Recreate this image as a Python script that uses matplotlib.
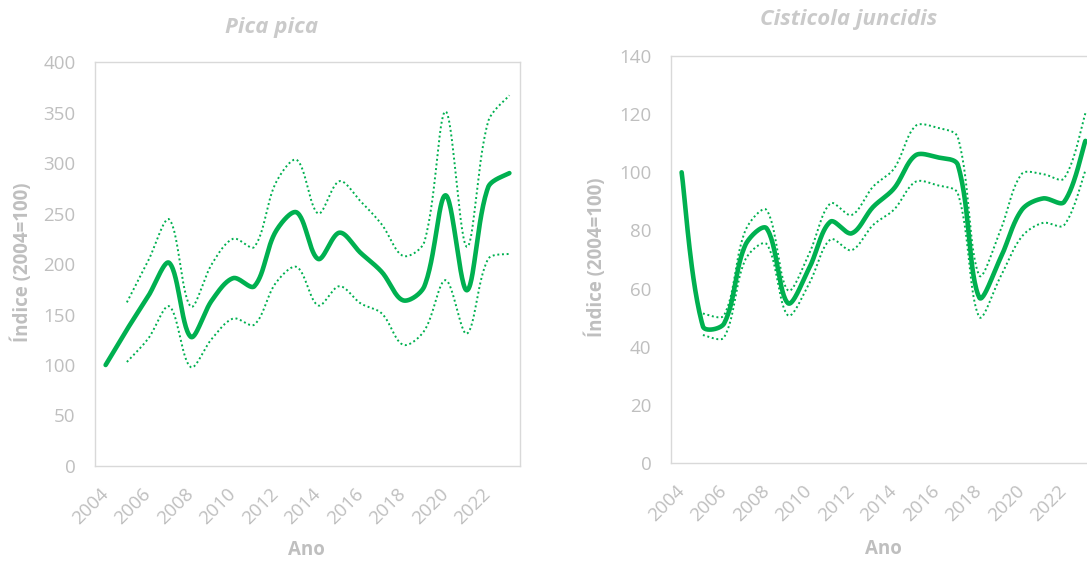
import numpy as np
import matplotlib
matplotlib.use("Agg")
import matplotlib.pyplot as plt

years = list(range(2004, 2024))

# Pica pica index (2004 = 100) with lower / upper bounds (bounds start in 2005)
pica_mean = [100, 135, 168, 201, 128, 164, 186, 178, 232, 251, 205, 231, 211, 192, 164, 178, 268, 174, 276, 290]
pica_upper = [None, 162, 203, 244, 158, 200, 225, 217, 280, 303, 250, 282, 262, 239, 208, 222, 351, 217, 341, 367]
pica_lower = [None, 103, 126, 158, 98, 126, 146, 140, 181, 197, 159, 178, 161, 151, 120, 134, 184, 131, 205, 210]

# Cisticola juncidis index (2004 = 100) with lower / upper bounds
cist_mean = [100, 47, 48, 75, 80.7, 55, 67, 83, 79, 88, 94.5, 105.8, 105.2, 102.5, 57, 70.4, 87, 91, 89.8, 110.8]
cist_upper = [None, 51.4, 50.8, 80, 87, 59.4, 72, 89.3, 85.3, 95, 101.3, 115.9, 115.4, 112, 64.6, 80, 99.4, 99.4, 97.9, 120.3]
cist_lower = [None, 44, 43.2, 70, 75.3, 50.8, 61.7, 76.9, 73.2, 81.8, 87.2, 96.7, 95.6, 92.7, 50.3, 64, 77.8, 82.6, 81.8, 100.7]

GREEN = "#00B050"
GREY = "#BFBFBF"
TITLE_GREY = "#CACACA"
FONT = ["Open Sans", "DejaVu Sans"]


def smooth(ax, xs, ys, n=30, f=1 / 3):
    """Smoothed line through every point, built in screen space with
    length-weighted Bezier control points (limits overshoot on uneven segments)."""
    pts = [(x, y) for x, y in zip(xs, ys) if y is not None]
    p = ax.transData.transform(np.array(pts, dtype=float))
    m = len(p)
    d = np.linalg.norm(np.diff(p, axis=0), axis=1)
    tang = np.zeros_like(p)
    tang[1:-1] = p[2:] - p[:-2]
    tang[0] = p[1] - p[0]
    tang[-1] = p[-1] - p[-2]
    t = np.linspace(0, 1, n, endpoint=False)[:, None]
    out = []
    for i in range(m - 1):
        p1, p2 = p[i], p[i + 1]
        dl = d[i - 1] if i > 0 else d[i]
        dr = d[i + 1] if i + 1 < m - 1 else d[i]
        if i == 0:
            c1 = p1 + tang[i] * f * 0.5
        else:
            c1 = p1 + tang[i] * f * d[i] / (dl + d[i])
        if i + 1 == m - 1:
            c2 = p2 - tang[i + 1] * f * 0.5
        else:
            c2 = p2 - tang[i + 1] * f * d[i] / (d[i] + dr)
        seg = (1 - t) ** 3 * p1 + 3 * (1 - t) ** 2 * t * c1 + 3 * (1 - t) * t ** 2 * c2 + t ** 3 * p2
        out.append(seg)
    out.append(p[-1][None, :])
    out = ax.transData.inverted().transform(np.vstack(out))
    return out[:, 0], out[:, 1]


W, H = 1087, 561
fig = plt.figure(figsize=(W / 100, H / 100), dpi=100)


def panel(left, bottom, right, top, mean, lower, upper, ymax, ystep):
    ax = fig.add_axes([left / W, 1 - bottom / H, (right - left) / W, (bottom - top) / H])
    idx = np.arange(len(years))
    ax.set_xlim(-0.5, len(years) - 0.5)
    ax.set_ylim(0, ymax)
    for series in (upper, lower):
        sx, sy = smooth(ax, idx, series)
        ax.plot(sx, sy, color=GREEN, lw=1.4, ls=(0, (1, 1.4)))
    mx, my = smooth(ax, idx, mean)
    ax.plot(mx, my, color=GREEN, lw=3.3, solid_capstyle="round", solid_joinstyle="round")
    ax.set_yticks(np.arange(0, ymax + 1, ystep))
    ax.set_xticks(idx[::2])
    ax.set_xticklabels([str(y) for y in years[::2]], rotation=45, ha="right",
                       rotation_mode="anchor", va="center")
    ax.tick_params(length=0, colors=GREY, labelsize=13.5)
    ax.tick_params(axis="y", pad=14)
    ax.tick_params(axis="x", pad=18)
    for lab in ax.get_xticklabels() + ax.get_yticklabels():
        lab.set_family(FONT)
    for s in ax.spines.values():
        s.set_color("#D9D9D9")
        s.set_linewidth(1.0)
    return ax


ax1 = panel(95, 466, 520, 62, pica_mean, pica_lower, pica_upper, 400, 50)
ax2 = panel(671, 463, 1096, 56, cist_mean, cist_lower, cist_upper, 140, 20)

fig.text(272 / W, 1 - 28 / H, "Pica pica", ha="center", va="center", fontsize=16,
         color=TITLE_GREY, style="italic", weight="bold", family=FONT)
fig.text(849 / W, 1 - 20 / H, "Cisticola juncidis", ha="center", va="center", fontsize=16,
         color=TITLE_GREY, style="italic", weight="bold", family=FONT)

fig.text(22 / W, 1 - 262 / H, "Índice (2004=100)", ha="center", va="center", rotation=90,
         fontsize=13.5, color=GREY, weight="bold", family=FONT)
fig.text(596 / W, 1 - 257 / H, "Índice (2004=100)", ha="center", va="center", rotation=90,
         fontsize=13.5, color=GREY, weight="bold", family=FONT)
fig.text(306 / W, 1 - 550 / H, "Ano", ha="center", va="center",
         fontsize=13.5, color=GREY, weight="bold", family=FONT)
fig.text(883 / W, 1 - 549 / H, "Ano", ha="center", va="center",
         fontsize=13.5, color=GREY, weight="bold", family=FONT)

fig.savefig("out.png", dpi=100, facecolor="white")
